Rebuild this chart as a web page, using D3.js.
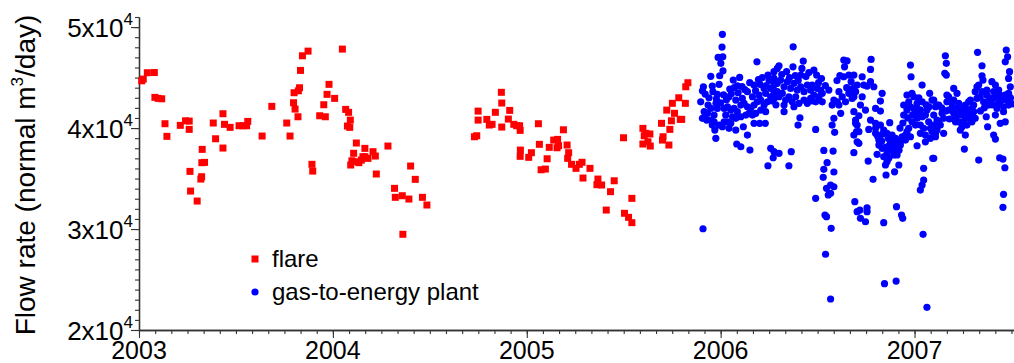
<!DOCTYPE html>
<html>
<head>
<meta charset="utf-8">
<script src="https://cdn.jsdelivr.net/npm/d3@7/dist/d3.min.js"></script>
<style>
  html, body { margin: 0; padding: 0; background: #fff; }
  svg { display: block; }
  text { font-family: "Liberation Sans", Arial, sans-serif; fill: #000; }
</style>
</head>
<body>
<svg id="chart" width="1014" height="363"></svg>
<script>
// Daily flow rates (normal m3/day) against decimal year.
const flarePoints = [
  [2003.014,44680],[2003.022,44850],[2003.043,45480],[2003.079,45500],[2003.082,43040],[2003.099,42940],
  [2003.117,42900],[2003.134,40430],[2003.144,39180],[2003.213,40270],[2003.240,40720],[2003.259,40690],
  [2003.259,39870],[2003.263,35710],[2003.266,33760],[2003.300,32770],[2003.326,37890],[2003.324,36570],
  [2003.338,36600],[2003.323,35180],[2003.319,34950],[2003.383,40500],[2003.395,38940],[2003.433,41420],
  [2003.441,40370],[2003.433,38020],[2003.470,40070],[2003.516,40230],[2003.536,40230],[2003.555,40230],
  [2003.561,40660],[2003.635,39210],[2003.685,42150],[2003.762,40500],[2003.779,39210],[2003.797,42510],
  [2003.800,43500],[2003.805,41880],[2003.820,41120],[2003.822,43690],[2003.828,43990],[2003.833,45710],
  [2003.843,47160],[2003.872,47620],[2003.892,36410],[2003.896,35740],[2003.932,41220],[2003.953,42310],
  [2003.961,41120],[2003.970,43340],[2003.980,44330],[2004.009,42940],[2004.049,47820],[2004.066,41850],
  [2004.081,41560],[2004.090,40790],[2004.075,40200],[2004.087,40070],[2004.121,38520],[2004.107,37500],
  [2004.098,36760],[2004.092,36340],[2004.121,36670],[2004.165,37990],[2004.165,37160],[2004.134,36570],
  [2004.147,36830],[2004.155,37160],[2004.181,37000],[2004.207,37660],[2004.219,37230],[2004.284,38220],
  [2004.224,35450],[2004.401,36240],[2004.425,34920],[2004.318,34030],[2004.322,33140],[2004.358,33300],
  [2004.392,32970],[2004.462,33140],[2004.485,32380],[2004.361,29480],
  [2004.730,39140],[2004.742,39240],[2004.749,41680],[2004.749,40790],[2004.794,40860],[2004.807,40300],
  [2004.821,40370],[2004.838,41560],[2004.869,43540],[2004.871,42480],[2004.871,40100],[2004.905,40890],
  [2004.912,41750],[2004.933,40370],[2004.948,40230],[2004.963,40230],[2004.966,39770],[2004.967,37820],
  [2004.966,37200],[2005.010,37100],[2005.024,37560],[2005.060,40430],[2005.065,38390],[2005.074,35870],
  [2005.096,35940],[2005.105,36960],[2005.116,38090],[2005.139,38810],[2005.159,38880],[2005.156,38050],
  [2005.164,38250],[2005.189,39830],[2005.208,38320],[2005.216,37560],[2005.211,37000],[2005.231,36410],
  [2005.254,36010],[2005.271,36410],[2005.285,36610],[2005.290,35050],[2005.326,36010],[2005.367,34950],
  [2005.362,34390],[2005.386,34360],[2005.451,34780],[2005.432,33700],[2005.410,31880],[2005.504,31560],
  [2005.525,31160],[2005.542,30630],[2005.542,33040],[2005.499,39040],[2005.599,39970],[2005.606,39240],
  [2005.614,39480],[2005.635,39410],[2005.599,38420],[2005.625,38640],[2005.637,38220],[2005.695,40470],
  [2005.700,38810],[2005.703,39140],[2005.738,39870],[2005.733,38320],[2005.746,40720],[2005.722,41780],
  [2005.751,42450],[2005.784,43000],[2005.818,42450],[2005.762,41460],[2005.792,40860],[2005.799,40860],
  [2005.820,44090],[2005.831,44490]
];

const plantPoints = [
  [2006.009,49280],[2006.007,48020],[2005.987,47000],[2006.011,47060],[2006.001,46410],[2006.012,45670],
  [2005.995,45180],[2006.187,46560],[2005.949,45120],[2005.911,44090],[2005.906,43690],[2005.920,43370],
  [2005.957,44160],[2005.992,44330],[2005.983,43340],[2005.935,42280],[2005.923,41460],[2005.915,41620],
  [2005.928,40790],[2005.976,42450],[2005.966,40620],[2005.957,40300],[2005.970,39800],[2005.975,38980],
  [2006.065,44750],[2006.098,45020],[2006.086,44190],[2006.047,43860],[2006.043,43100],[2006.018,41950],
  [2006.026,41290],[2006.035,40620],[2006.043,39970],[2006.078,39800],[2006.117,40130],[2006.138,39310],
  [2006.083,38420],[2006.104,38150],[2006.151,37820],[2006.172,40470],[2006.201,40470],[2006.230,40470],
  [2006.138,43600],[2006.172,44260],[2006.203,44330],[2006.224,43930],[2006.244,45250],[2006.275,45580],
  [2006.292,45910],[2006.258,37990],[2006.271,37060],[2006.244,36270],[2005.909,30030],
  [2006.374,48050],[2006.301,46170],[2006.373,46070],[2006.426,46630],[2006.419,45910],[2006.413,45250],
  [2006.481,45740],[2006.495,45250],[2006.472,44260],[2006.327,41620],[2006.399,40300],[2006.409,41020],
  [2006.490,39870],[2006.275,37660],[2006.301,37500],[2006.364,37660],[2006.352,36270],[2006.532,37790],
  [2006.580,37720],[2006.549,36570],[2006.532,35910],[2006.529,35120],[2006.584,35650],[2006.546,34030],
  [2006.567,34360],[2006.584,34190],[2006.555,33370],[2006.567,33540],[2006.490,33040],[2006.538,31390],
  [2006.546,31220],[2006.570,30070],[2006.541,27500],[2006.567,23070],[2006.635,46730],[2006.652,46660],
  [2006.639,46070],[2006.635,45080],[2006.661,45250],[2006.673,44590],[2006.683,43930],[2006.558,43760],
  [2006.610,43600],[2006.601,42600],[2006.619,41460],[2006.584,40960],[2006.575,40300],[2006.588,39580],
  [2006.515,43760],[2006.524,42600],[2006.687,41620],[2006.696,40470],[2006.701,39640],[2006.704,38640],
  [2006.687,37560],[2006.692,32710],[2006.704,31720],
  [2006.776,46800],[2006.773,45810],[2006.730,45080],[2006.738,44260],[2006.755,44160],[2006.773,44590],
  [2006.790,44090],[2006.687,45250],[2006.730,43100],[2006.687,43100],[2006.833,43440],[2006.824,42670],
  [2006.799,41950],[2006.824,41680],[2006.713,41220],[2006.704,40300],[2006.713,39640],[2006.687,39310],
  [2006.713,38490],[2006.764,39870],[2006.799,40470],[2006.824,40300],[2006.872,40530],[2006.799,39480],
  [2006.816,38810],[2006.833,39380],[2006.864,38980],[2006.761,36730],[2006.786,34920],[2006.807,37400],
  [2006.841,37160],[2006.858,36670],[2006.850,36340],[2006.867,37000],[2006.893,37330],[2006.910,37990],
  [2006.927,38320],[2006.902,38640],[2006.936,39140],[2006.961,39640],[2006.953,38810],[2006.979,39140],
  [2006.853,35350],[2006.897,35670],[2006.919,36340],[2006.876,38490],[2006.884,37820],[2006.718,31880],
  [2006.721,31060],[2006.747,30720],[2006.755,32110],[2006.755,31720],[2006.841,30630],[2006.907,32210],
  [2006.933,31390],[2006.939,31060],[2007.044,29480],[2006.845,24590],[2006.905,24850],[2007.064,22250],
  [2006.979,46240],[2006.982,45080],[2007.039,44260],[2007.078,43440],[2007.090,42770],[2007.116,42280],
  [2006.961,43270],[2006.987,43440],[2006.996,43100],[2007.022,43000],[2006.944,41290],[2006.961,41780],
  [2006.979,42110],[2007.005,41620],[2007.013,40960],[2007.039,41120],[2007.056,41290],[2007.030,40300],
  [2007.073,40620],[2007.090,39640],[2007.056,39310],[2007.082,38980],[2007.108,39480],[2007.013,38250],
  [2007.056,38640],[2007.094,37000],[2007.047,36010],[2007.047,34850],[2007.039,34360],[2007.030,33860],
  [2007.159,47160],[2007.164,46410],[2007.156,45420],[2007.164,45250],[2007.325,47500],[2007.348,46170],
  [2007.348,45180],[2007.353,44750],[2007.473,47720],[2007.480,47060],[2007.468,46560],[2007.490,45580],
  [2007.485,44920],[2007.494,44090],[2007.202,43930],[2007.219,43440],[2007.176,43100],[2007.167,42600],
  [2007.193,42450],[2007.176,41780],[2007.202,41460],[2007.228,41780],[2007.211,40620],[2007.236,39800],
  [2007.262,39310],[2007.245,40130],[2007.099,42770],[2007.108,42110],[2007.099,41290],[2007.125,40620],
  [2007.116,39800],[2007.108,39140],[2007.150,39480],[2007.253,41950],[2007.270,41620],[2007.288,41290],
  [2007.296,40620],[2007.262,40960],[2007.305,42280],[2007.288,42770],[2007.322,42940],[2007.322,44090],
  [2007.348,43600],[2007.373,43760],[2007.399,44590],[2007.417,44260],[2007.434,43760],[2007.442,43270],
  [2007.408,42940],[2007.382,42280],[2007.425,41950],[2007.417,41290],[2007.459,41620],[2007.485,42280],
  [2007.370,41120],[2007.377,40130],[2007.408,39310],[2007.417,38910],[2007.442,40470],[2007.468,40620],
  [2007.257,37920],[2007.331,36830],[2007.099,37000],[2007.439,37060],[2007.456,36930],[2007.466,36070],
  [2007.459,33440],[2007.456,32150],
  [2006.035,42110],[2006.052,41780],[2006.069,41950],[2006.086,41620],[2006.104,42280],[2006.121,42450],
  [2006.138,42110],[2006.155,41950],[2006.172,42280],[2006.189,42600],[2006.207,42770],[2006.224,42280],
  [2006.241,42600],[2006.258,43100],[2006.275,43440],[2006.292,43600],[2006.061,41120],[2006.078,40960],
  [2006.104,41120],[2006.130,41290],[2006.147,41460],[2006.164,41290],[2006.181,41460],[2006.207,41780],
  [2006.232,41620],[2006.018,40620],[2006.052,40470],[2006.009,40130],[2005.992,40300],[2005.966,41290],
  [2005.949,41950],[2005.932,41460],[2005.983,41950],[2006.078,42770],[2006.112,42940],[2006.164,43100],
  [2006.198,43270],[2006.232,43440],[2006.258,43930],[2006.275,44260],[2006.292,44590],[2005.897,42600],
  [2005.906,40960],[2005.949,40790],
  [2006.275,44920],[2006.292,44430],[2006.309,44750],[2006.327,44090],[2006.344,44590],[2006.361,43930],
  [2006.378,44430],[2006.395,43760],[2006.413,44090],[2006.430,43600],[2006.447,44260],[2006.464,43760],
  [2006.481,43270],[2006.498,43930],[2006.284,43600],[2006.301,43100],[2006.318,43440],[2006.335,42770],
  [2006.352,43100],[2006.369,42600],[2006.387,43100],[2006.404,42450],[2006.430,42770],[2006.447,42450],
  [2006.464,42940],[2006.490,42600],[2006.507,43100],[2006.524,43440],[2006.327,42280],[2006.378,42110],
  [2006.275,42940],[2006.584,42770],[2006.610,42280],[2006.627,43100],[2006.644,42600],[2006.661,43440],
  [2006.678,42940],[2006.696,43600],[2006.575,42280],
  [2006.721,42280],[2006.747,41780],[2006.773,40790],[2006.799,39970],[2006.841,39800],[2006.858,39480],
  [2006.884,39310],[2006.902,38980],[2006.876,37990],[2006.893,37660],[2006.910,37330],[2006.858,37500],
  [2006.833,37990],[2006.816,38320],[2006.927,38640],[2006.953,39310],[2006.970,39970],[2006.987,40620],
  [2007.005,40300],[2007.022,41290],[2006.996,41950],[2006.944,42280],[2006.970,42600],[2007.013,42450],
  [2007.039,42600],[2007.064,41780],[2007.099,40300],[2007.116,40790],[2007.047,39970],[2007.030,39480],
  [2007.082,39970],[2006.696,40790],[2006.704,44260],[2006.687,43760],
  [2007.125,42280],[2007.142,41460],[2007.133,40300],[2007.150,40960],[2007.193,41950],[2007.211,40960],
  [2007.228,40620],[2007.236,41290],[2007.253,40620],[2007.270,40300],[2007.279,40960],[2007.305,41620],
  [2007.313,40960],[2007.296,41950],[2007.339,43100],[2007.356,42600],[2007.373,43270],[2007.391,42600],
  [2007.408,43600],[2007.425,43100],[2007.442,42600],[2007.459,42110],[2007.476,42770],[2007.485,43440],
  [2007.202,42770],[2007.228,42450],[2007.262,42280],[2007.279,42600],[2007.313,43600],[2007.331,44260],
  [2007.167,43270],
  [2005.940,43000],[2005.960,43600],[2005.978,42900],[2006.000,42500],[2006.015,43300],[2006.030,42800],
  [2006.055,43400],[2006.070,44000],[2006.090,43500],[2006.110,44100],[2006.125,43800],[2006.150,44500],
  [2006.180,43700],[2006.195,44800],[2006.215,45000],[2006.235,44200],[2006.250,44700],[2006.265,42700],
  [2006.285,42300],[2006.315,45300],[2006.340,45600],[2006.355,45000],[2006.385,45200],[2006.400,44700],
  [2006.440,45100],[2006.455,45500],[2006.470,42700],[2006.505,44500],[2006.520,44900],[2006.540,44200],
  [2006.600,44700],[2006.615,45200],[2006.650,44000],[2006.665,43800],[2006.925,40000],[2006.940,40500],
  [2006.965,41000],[2006.990,41300],[2007.010,42000],[2007.030,41800],[2007.060,42300],[2007.075,42100],
  [2007.140,42000],[2007.160,41700],[2007.180,40900],[2007.220,42000],[2007.245,41500],[2007.285,41800],
  [2007.300,41100],[2007.340,41700],[2007.360,42000],[2007.385,43000],[2007.400,42300],[2007.430,42400],
  [2007.450,42800],[2007.470,43300],[2007.495,43000],[2007.505,42400],[2006.810,39200],[2006.830,38700],
  [2006.850,38100],[2006.870,38300],[2006.890,38700],[2006.905,38200],[2006.920,37800]
];

const seriesNames = ["flare", "gas-to-energy plant"];
const seriesColors = ["#ff0000", "#0000ff"];
const yearTicks = [2003, 2004, 2005, 2006, 2007];
const flowTicks = [20000, 30000, 40000, 50000];
const yTitle = "Flow rate (normal m";
const yTitleTail = "/day)";

const svg = d3.select("#chart");
const plot = { left: 139, right: 1014, top: 17, bottom: 330 };

const x = d3.scaleLinear().domain([2003, 2007.513]).range([plot.left, plot.right]);
const y = d3.scaleLinear().domain([20000, 51000]).range([plot.bottom, plot.top]);

// monthly minor ticks on time, 1000-step minor ticks on flow
const monthTicks = d3.range(0, 12 * 4.513 + 0.001, 1).map(m => 2003 + m / 12).filter(v => v <= 2007.513);
const flowMinor = d3.range(20000, 51001, 1000);

const axisColor = "#333";

// x axis
const gx = svg.append("g").attr("transform", `translate(0,${plot.bottom})`);
gx.call(d3.axisBottom(x).tickValues(monthTicks).tickSize(4).tickFormat("").tickSizeOuter(0));
gx.append("g").call(d3.axisBottom(x).tickValues(yearTicks).tickSize(8).tickFormat("").tickSizeOuter(0));
gx.selectAll("path.domain").attr("stroke", axisColor).attr("stroke-width", 1.3);
gx.selectAll(".tick line").attr("stroke", axisColor).attr("stroke-width", 1.1);

// y axis
const gy = svg.append("g").attr("transform", `translate(${plot.left},0)`);
gy.call(d3.axisLeft(y).tickValues(flowMinor).tickSize(4).tickFormat("").tickSizeOuter(0));
gy.append("g").call(d3.axisLeft(y).tickValues(flowTicks).tickSize(8).tickFormat("").tickSizeOuter(0));
gy.selectAll("path.domain").attr("stroke", axisColor).attr("stroke-width", 1.3);
gy.selectAll(".tick line").attr("stroke", axisColor).attr("stroke-width", 1.1);

// year labels
svg.append("g").selectAll("text").data(yearTicks).join("text")
  .attr("x", d => x(d)).attr("y", plot.bottom + 29)
  .attr("text-anchor", "middle").attr("font-size", 25)
  .text(d => d);

// flow labels written as n x 10^4
const flowLabels = svg.append("g").selectAll("text").data(flowTicks).join("text")
  .attr("x", plot.left - 6).attr("y", d => y(d) + 10)
  .attr("text-anchor", "end").attr("font-size", 26);
flowLabels.append("tspan").text(d => (d / 10000) + "x10");
flowLabels.append("tspan").attr("font-size", 17).attr("dy", -12).text("4");

// y title
const title = svg.append("text")
  .attr("transform", "translate(35,175) rotate(-90)")
  .attr("text-anchor", "middle").attr("font-size", 28);
title.append("tspan").text(yTitle);
title.append("tspan").attr("font-size", 17).attr("dy", -12).text("3");
title.append("tspan").attr("dy", 12).text(yTitleTail);

// markers
const marks = svg.append("g");
const sq = 7;
marks.append("g").selectAll("rect").data(flarePoints).join("rect")
  .attr("x", d => x(d[0]) - sq / 2).attr("y", d => y(d[1]) - sq / 2)
  .attr("width", sq).attr("height", sq).attr("fill", seriesColors[0]);
marks.append("g").selectAll("circle").data(plantPoints).join("circle")
  .attr("cx", d => x(d[0])).attr("cy", d => y(d[1])).attr("r", 3.6)
  .attr("fill", seriesColors[1]);

// legend
const legend = svg.append("g");
const legendRows = [259, 292];
legend.append("rect").attr("x", 255 - sq / 2).attr("y", legendRows[0] - sq / 2)
  .attr("width", sq).attr("height", sq).attr("fill", seriesColors[0]);
legend.append("circle").attr("cx", 255).attr("cy", legendRows[1]).attr("r", 3.6)
  .attr("fill", seriesColors[1]);
legend.selectAll("text").data(seriesNames).join("text")
  .attr("x", 272).attr("y", (d, i) => legendRows[i] + 8)
  .attr("font-size", 24).text(d => d);
</script>
</body>
</html>
